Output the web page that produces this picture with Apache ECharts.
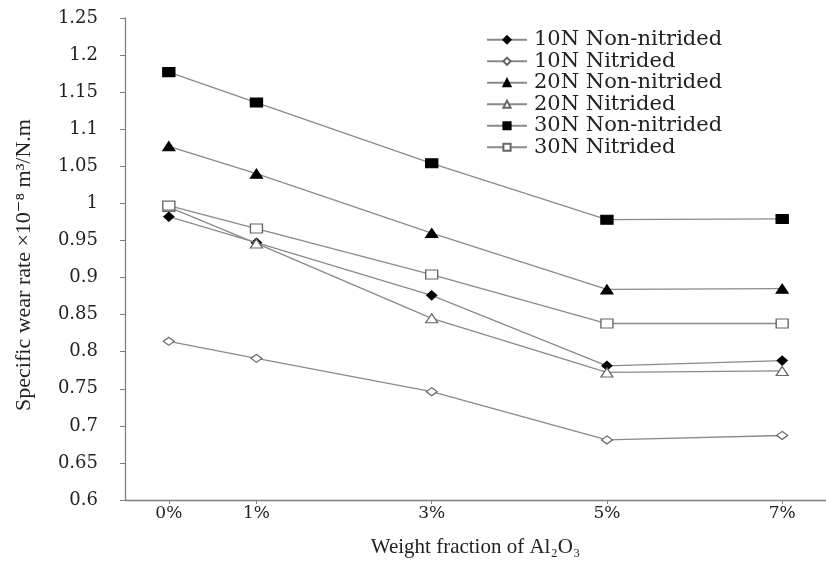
<!DOCTYPE html>
<html>
<head>
<meta charset="utf-8">
<script src="https://cdn.jsdelivr.net/npm/echarts@6/dist/echarts.min.js"></script>
<style>
  html, body { margin: 0; padding: 0; background: #fff; }
  #chart { width: 826px; height: 570px; }
</style>
</head>
<body>
<div id="chart"></div>
<script>
// ---- Data ----
const xValues = [0, 1, 3, 5, 7];            // Al2O3 weight fraction (%)
const xTickValues = [0, 1, 3, 5, 7];
const yTickMin = 0.6, yTickMax = 1.25, yTickStep = 0.05;

const seriesNames = [
  '10N Non-nitrided', '10N Nitrided',
  '20N Non-nitrided', '20N Nitrided',
  '30N Non-nitrided', '30N Nitrided'
];
const n10NonNitrided = [0.982, 0.947, 0.876, 0.781, 0.788];
const n10Nitrided    = [0.814, 0.791, 0.746, 0.681, 0.687];
const n20NonNitrided = [1.077, 1.040, 0.960, 0.884, 0.885];
const n20Nitrided    = [0.995, 0.946, 0.845, 0.772, 0.774];
const n30NonNitrided = [1.177, 1.136, 1.054, 0.978, 0.979];
const n30Nitrided    = [0.997, 0.966, 0.904, 0.838, 0.838];

const seriesValues = [n10NonNitrided, n10Nitrided, n20NonNitrided, n20Nitrided, n30NonNitrided, n30Nitrided];

// ---- Styles ----
const SERIF = '"Liberation Serif", "DejaVu Serif", serif';
const WIDE = '"DejaVu Serif", "Liberation Serif", serif';
const LINE = '#8a8a8a';
const styleFor = [
  { symbol: 'diamond',  size: [10, 9],  fill: '#000', stroke: '#000' },
  { symbol: 'diamond',  size: [11, 8],  fill: '#fff', stroke: '#666' },
  { symbol: 'triangle', size: [12, 9],  fill: '#000', stroke: '#000' },
  { symbol: 'triangle', size: [12, 9],  fill: '#fff', stroke: '#666' },
  { symbol: 'rect',     size: [12, 9],  fill: '#000', stroke: '#000' },
  { symbol: 'rect',     size: [12, 9],  fill: '#fff', stroke: '#666' }
];

const series = seriesNames.map((name, i) => ({
  name: name,
  type: 'line',
  data: xValues.map((x, k) => [x, seriesValues[i][k]]),
  symbol: styleFor[i].symbol,
  symbolSize: styleFor[i].size,
  showAllSymbol: true,
  lineStyle: { color: LINE, width: 1.3 },
  itemStyle: { color: styleFor[i].fill, borderColor: styleFor[i].stroke, borderWidth: 1.2 },
  emphasis: { disabled: true },
  animation: false,
  z: 2 + i
}));

const chart = echarts.init(document.getElementById('chart'), null, { renderer: 'canvas' });
chart.setOption({
  backgroundColor: '#fff',
  animation: false,
  grid: { left: 125, right: -12, top: 18, bottom: 70, containLabel: false },
  legend: {
    orient: 'vertical',
    left: 481,
    top: 24,
    itemWidth: 40,
    itemHeight: 9,
    itemGap: 0,
    textStyle: { fontFamily: WIDE, fontSize: 21, lineHeight: 21.5, color: '#222', padding: [0, 0, 0, 2] },
    data: seriesNames
  },
  xAxis: {
    type: 'value',
    min: -0.5,
    max: 7.5,
    name: 'Weight fraction of Al\u2082O\u2083',
    nameLocation: 'middle',
    nameGap: 37,
    nameTextStyle: { fontFamily: SERIF, fontSize: 21, color: '#222' },
    splitLine: { show: false },
    axisLine: { onZero: false, lineStyle: { color: '#808080', width: 1.3 } },
    axisTick: { show: true, length: 4, lineStyle: { color: '#808080' }, customValues: xTickValues },
    axisLabel: {
      customValues: xTickValues,
      formatter: v => v + '%',
      fontFamily: WIDE, fontSize: 17, color: '#222', margin: 5
    }
  },
  yAxis: {
    type: 'value',
    min: yTickMin,
    max: yTickMax,
    interval: yTickStep,
    name: 'Specific wear rate \u00d710\u207b\u2078 m\u00b3/N.m',
    nameLocation: 'middle',
    nameRotate: 90,
    nameGap: 90,
    nameTextStyle: { fontFamily: SERIF, fontSize: 22, color: '#222', padding: [0, 12, 0, 0] },
    splitLine: { show: false },
    axisLine: { show: true, onZero: false, lineStyle: { color: '#808080', width: 1.3 } },
    axisTick: { show: true, length: 5, lineStyle: { color: '#808080' } },
    axisLabel: {
      formatter: v => String(parseFloat(v.toFixed(2))),
      fontFamily: WIDE, fontSize: 18, color: '#222', margin: 27
    }
  },
  series: series
});
</script>
</body>
</html>
